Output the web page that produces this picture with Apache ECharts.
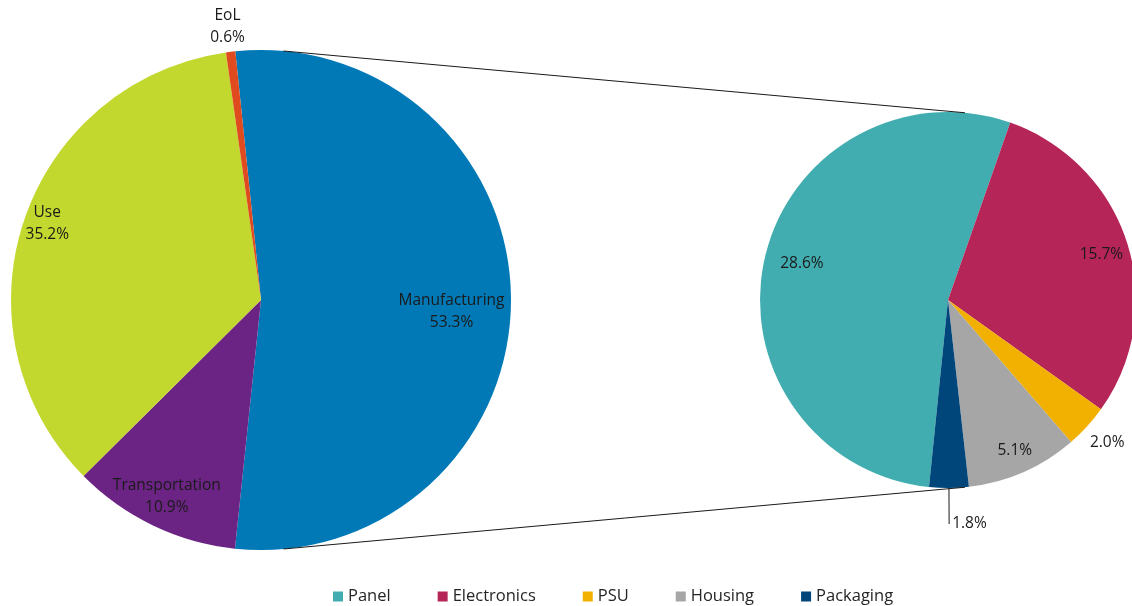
<!DOCTYPE html>
<html>
<head>
<meta charset="utf-8">
<script src="https://cdn.jsdelivr.net/npm/echarts@6/dist/echarts.min.js"></script>
<style>html,body{margin:0;padding:0;background:#fff}#c{width:1132px;height:606px}</style>
</head>
<body>
<div id="c"></div>
<script>
// ---- data ----
const leftNames = ['Manufacturing', 'Transportation', 'Use', 'EoL'];
const leftValues = [53.3, 10.9, 35.2, 0.6];
const rightNames = ['Panel', 'Electronics', 'PSU', 'Housing', 'Packaging'];
const rightValues = [28.6, 15.7, 2.0, 5.1, 1.8];

// ---- styles / layout ----
const leftColors = ['#0079B6', '#6B2484', '#C3D82E', '#DF4A1E'];
const rightColors = ['#42ADB0', '#B52557', '#F2B000', '#A6A6A6', '#00467A'];
const L = { cx: 261, cy: 300, r: 250, start: 95.9 };
const R = { cx: 948, cy: 300, r: 188, start: 264.2 };
const leftLabelFrac = [0.75, 0.86, 0.89, 1.09];
const leftLabelDy = [11, 0, -5, 0];
const rightLabelFrac = [0.78, 0.84, 1.13, 0.87, null];
const rightLabelDy = [-4, 3, -3, -2, 0];
const FONT = 'Open Sans';
const FS = 15.5;
const TXT = '#1a1a1a';

const fmtPct = v => v.toFixed(1) + '%';

function mainSeries(names, values, colors, geo, extraLabel) {
  return {
    type: 'pie', center: [geo.cx, geo.cy], radius: [0, geo.r],
    startAngle: geo.start, clockwise: true, avoidLabelOverlap: false,
    emphasis: { disabled: true }, silent: true, animation: false,
    label: { show: false }, labelLine: { show: false },
    itemStyle: { borderWidth: 0 },
    data: names.map((n, i) => {
      const d = { name: n, value: values[i], itemStyle: { color: colors[i] } };
      if (extraLabel && extraLabel[n]) Object.assign(d, extraLabel[n]);
      return d;
    })
  };
}

function labelSeries(names, values, geo, fracs, dys, withName) {
  const uniq = [...new Set(fracs.filter(f => f != null))];
  return uniq.map(f => {
    const a = geo.r * (2 * f - 1);
    return {
      type: 'pie', center: [geo.cx, geo.cy],
      radius: [Math.min(a, geo.r), Math.max(a, geo.r)],
      startAngle: geo.start, clockwise: true, avoidLabelOverlap: false,
      emphasis: { disabled: true }, silent: true, animation: false,
      labelLine: { show: false },
      labelLayout: p => ({ dy: dys[p.dataIndex] || 0 }),
      itemStyle: { color: 'rgba(0,0,0,0)', borderWidth: 0 },
      data: names.map((n, i) => ({
        name: n, value: values[i],
        label: {
          show: fracs[i] === f, position: 'inside',
          fontFamily: FONT, fontSize: FS, color: TXT, lineHeight: 22,
          formatter: p => withName ? p.name + '\n' + fmtPct(p.value) : fmtPct(p.value)
        }
      }))
    };
  });
}

// external tangent connectors between the two pies
const d = R.cx - L.cx;
const th = Math.acos((L.r - R.r) / d);
const conn = [1, -1].map(s => ({
  type: 'line', silent: true, z: 10,
  shape: {
    x1: L.cx + L.r * Math.cos(th), y1: L.cy - s * L.r * Math.sin(th),
    x2: R.cx + R.r * Math.cos(th), y2: R.cy - s * R.r * Math.sin(th)
  },
  style: { stroke: '#1a1a1a', lineWidth: 1 }
}));

const packLabel = {
  Packaging: {
    label: {
      show: true, position: 'outside', fontFamily: FONT, fontSize: FS, color: TXT,
      distanceToLabelLine: 3, formatter: p => fmtPct(p.value)
    },
    labelLine: { show: true, length: 36, length2: 0, lineStyle: { color: '#1a1a1a', width: 1 } }
  }
};

const option = {
  backgroundColor: '#fff',
  animation: false,
  legend: {
    data: rightNames, top: 583, left: 328,
    icon: 'rect', itemWidth: 10, itemHeight: 10, itemGap: 47,
    textStyle: { fontFamily: FONT, fontSize: 16.5, color: '#262626' },
    selectedMode: false
  },
  graphic: conn,
  series: [
    mainSeries(leftNames, leftValues, leftColors, L),
    mainSeries(rightNames, rightValues, rightColors, R, packLabel),
    ...labelSeries(leftNames, leftValues, L, leftLabelFrac, leftLabelDy, true),
    ...labelSeries(rightNames, rightValues, R, rightLabelFrac, rightLabelDy, false)
  ]
};

const chart = echarts.init(document.getElementById('c'), null, { renderer: 'canvas' });
chart.setOption(option);
</script>
</body>
</html>
